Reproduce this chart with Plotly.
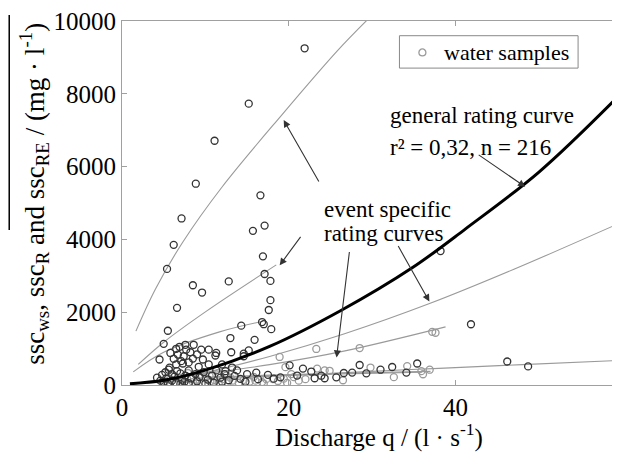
import plotly.graph_objects as go

# ---------------- data ----------------
dark_q = [21.9, 15.2, 11.1, 8.85, 16.6, 7.14, 17.1, 15.7, 6.2, 16.9, 5.4, 17.1, 17.8, 12.8, 8.5, 9.6,
          17.8, 6.6, 17.6, 16.8, 17.0, 14.3, 17.9, 5.5, 13.0, 15.9, 5.0, 15.2, 13.1, 14.6, 38.2, 41.85,
          46.2, 48.7,
          6.5, 7.6, 8.6, 7.7, 9.5, 10.4, 11.3, 6.7, 7.4, 8.5, 9.7, 11.2, 5.7, 6.5, 7.1, 9.2, 10.4, 12.0,
          13.2, 14.6, 4.5, 8.2, 6.9, 7.3, 8.0, 6.2, 5.8, 9.0,
          4.2, 4.8, 5.2, 5.6, 6.0, 6.3, 6.6, 7.0, 7.2, 7.6, 8.0, 8.3, 8.8, 9.3, 9.8, 10.3, 10.8, 11.3,
          11.8, 12.3, 12.8, 13.5, 14.2, 15.0, 5.0, 5.5, 6.0, 6.5, 7.0, 7.5, 8.0, 9.0, 4.6, 5.3, 13.8,
          12.4, 11.0, 10.0, 12.0, 14.8,
          16.1, 16.3, 18.2, 20.1, 21.7, 22.7, 23.1, 23.9, 24.3, 25.7, 27.6, 28.5, 29.3, 32.4, 34.1,
          35.4, 19.0, 21.0, 26.6, 31.0, 17.5]
dark_ssc = [9250, 7730, 6710, 5530, 5210, 4575, 4380, 4235, 3850, 3535, 3190, 3050, 2860, 2845, 2740, 2540,
            2330, 2120, 2060, 1730, 1670, 1630, 1535, 1490, 1290, 1240, 1130, 950, 900, 860, 3680, 1669,
            646, 511,
            995, 1105, 1105, 970, 970, 970, 880, 835, 790, 725, 700, 810, 475, 565, 655, 500, 565, 565,
            480, 790, 700, 900, 1050, 590, 620, 720, 880, 840,
            200, 280, 350, 420, 300, 230, 380, 320, 150, 260, 400, 180, 300, 220, 350, 150, 260, 400,
            200, 300, 130, 250, 170, 300, 80, 40, 120, 60, 30, 90, 50, 100, 120, 180, 400,
            380, 60, 40, 90, 90,
            340, 160, 175, 540, 450, 370, 185, 255, 185, 210, 340, 550, 320, 495, 340,
            590, 210, 260, 330, 420, 280]

light_q = [5.2, 5.8, 6.4, 6.8, 7.3, 7.8, 8.5, 9.0, 9.6, 10.0, 10.6, 11.1, 11.6, 12.1, 12.7, 13.3, 14.0,
           14.6, 15.3, 16.0, 16.8, 17.3, 18.1, 18.7, 19.4, 20.3, 20.6, 21.2, 22.0, 23.4, 24.3, 24.9,
           26.5, 29.8, 32.6, 34.2, 36.1, 36.9, 37.2, 37.6, 18.9, 23.3, 28.5, 19.6, 9.5, 8.0, 10.5, 11.5,
           13.0, 35.9, 4.9, 6.1, 7.9, 9.4, 12.5, 15.8, 17.0, 19.8]
light_ssc = [100, 160, 40, 200, 110, 170, 80, 140, 60, 190, 90, 130, 50, 160, 70, 120, 60,
             140, 90, 120, 80, 160, 160, 110, 175, 300, 215, 120, 160, 450, 400, 390,
             130, 480, 215, 520, 296, 420, 1460, 1435, 770, 990, 1015, 490, 30, 20, 250, 320,
             200, 380, 60, 250, 330, 280, 260, 220, 40, 60]

# event specific rating curves
ev_a_q = [1.67, 4, 7.3, 12, 19.2, 25.9, 29.5]
ev_a_ssc = [1480, 2630, 3930, 5440, 7430, 9200, 10050]
ev_b_q = [1.95, 5, 10, 18.5]
ev_b_ssc = [565, 1175, 2010, 3300]
ev_c_q = [1.35, 5, 11.7, 16.9]
ev_c_ssc = [360, 900, 1460, 1750]
ev_d_q = [1, 5, 10, 17.7, 26.6, 36.8, 47, 59.6]
ev_d_ssc = [15, 130, 345, 785, 1400, 2230, 3180, 4440]
ev_e_q = [2, 8, 17.7, 26.6, 38.8]
ev_e_ssc = [40, 250, 560, 930, 1597]
ev_f_q = [3, 10, 20, 30, 38, 48, 59.6]
ev_f_ssc = [50, 145, 265, 375, 458, 560, 675]
ev_g_q = [10, 20, 30, 37]
ev_g_ssc = [210, 290, 340, 375]
ev_h_q = [15, 25, 36]
ev_h_ssc = [230, 300, 350]

# general rating curve
gen_q = [0.95, 5, 10, 17.7, 26.2, 34.8, 41.2, 50, 59.6]
gen_ssc = [35, 130, 410, 1060, 2040, 3220, 4290, 5850, 7950]

x_ticks = [0, 20, 40]
y_ticks = [0, 2000, 4000, 6000, 8000, 10000]

# ---------------- figure ----------------
FONT = "Liberation Serif"
OFF = 8                      # page body margin of the html page
W, H = 620 - OFF, 452 - OFF
L, R, T, B = 122 - OFF, 0, 14 - OFF, 67
PW, PH = W - L - R, H - T - B


def px(xwin):
    return (xwin - OFF - L) / PW


def py(ywin):
    return (H - B - (ywin - OFF)) / PH


fig = go.Figure()

grey_curves = [(ev_a_q, ev_a_ssc), (ev_b_q, ev_b_ssc), (ev_c_q, ev_c_ssc), (ev_d_q, ev_d_ssc),
               (ev_e_q, ev_e_ssc), (ev_f_q, ev_f_ssc), (ev_g_q, ev_g_ssc), (ev_h_q, ev_h_ssc)]
for q, s in grey_curves:
    fig.add_trace(go.Scatter(x=q, y=s, mode="lines", line=dict(color="#9a9a9a", width=1.1, shape="spline"),
                             showlegend=False, hoverinfo="skip"))

fig.add_trace(go.Scatter(x=light_q, y=light_ssc, mode="markers", name="water samples",
                         marker=dict(symbol="circle-open", size=7, color="#9a9a9a", line=dict(width=1.3)),
                         showlegend=False))
fig.add_trace(go.Scatter(x=dark_q, y=dark_ssc, mode="markers", name="water samples",
                         marker=dict(symbol="circle-open", size=7, color="#333333", line=dict(width=1.3)),
                         showlegend=False))

fig.add_trace(go.Scatter(x=gen_q, y=gen_ssc, mode="lines", line=dict(color="black", width=3, shape="spline"),
                         showlegend=False, hoverinfo="skip"))

axis_common = dict(showgrid=False, zeroline=False, showline=True, linecolor="#a0a0a0", linewidth=1.2,
                   mirror="ticks", ticks="inside", ticklen=5, tickcolor="#a0a0a0",
                   ticklabeloverflow="allow",
                   tickfont=dict(family=FONT, size=25, color="black"))
fig.update_xaxes(range=[0, 59.6], tickvals=x_ticks, ticktext=[str(v) for v in x_ticks], **axis_common)
fig.update_yaxes(range=[0, 10000], tickvals=y_ticks, ticktext=[str(v) for v in y_ticks], **axis_common)

annos = []
# axis titles
annos.append(dict(xref="paper", yref="paper", x=px(380), y=py(436),
                  text="Discharge q / (l · s<sup>-1</sup>)", showarrow=False,
                  font=dict(family=FONT, size=25, color="black"), xanchor="center", yanchor="middle"))
annos.append(dict(xref="paper", yref="paper", x=px(34), y=py(190), textangle=-90,
                  text="ssc<sub>ws</sub>, ssc<sub>R</sub> and ssc<sub>RE</sub> / (mg · l<sup>-1</sup>)",
                  showarrow=False, font=dict(family=FONT, size=27, color="black"),
                  xanchor="center", yanchor="middle"))
# text labels
for txt, xx, yy in [("general rating curve", 389, 110), ("r² = 0,32, n = 216", 389, 143),
                    ("event specific", 322, 206), ("rating curves", 322, 231)]:
    annos.append(dict(xref="paper", yref="paper", x=px(xx), y=py(yy), text=txt, showarrow=False,
                      font=dict(family=FONT, size=23, color="black"), xanchor="left", yanchor="middle"))

# legend text
annos.append(dict(xref="paper", yref="paper", x=px(443), y=py(46), text="water samples", showarrow=False,
                  font=dict(family=FONT, size=22, color="black"), xanchor="left", yanchor="middle"))

# arrows: (tail x, tail y, tip x, tip y) in window pixels
arrows = [(320, 178, 284, 115), (302, 233, 280, 263), (350, 250, 337, 357),
          (398, 243, 430, 300), (478, 150, 526, 183)]
for tx, ty, hx, hy in arrows:
    annos.append(dict(xref="paper", yref="paper", x=px(hx), y=py(hy), ax=tx - hx, ay=ty - hy,
                      axref="pixel", ayref="pixel", text="", showarrow=True, arrowhead=2,
                      arrowsize=1.3, arrowwidth=1.1, arrowcolor="#333333"))

shapes = [
    # overline of the rotated axis title
    dict(type="line", xref="paper", yref="paper", x0=px(9), x1=px(9), y0=py(8), y1=py(227),
         line=dict(color="black", width=1.5)),
    # legend box
    dict(type="rect", xref="paper", yref="paper", x0=px(400), x1=px(579), y0=py(29), y1=py(62),
         line=dict(color="#888888", width=1), fillcolor="white", layer="above"),
    # legend symbol
    dict(type="circle", xref="paper", yref="paper", x0=px(419.5), x1=px(426.5), y0=py(42.5), y1=py(49.5),
         line=dict(color="#9a9a9a", width=1.3), layer="above"),
]

fig.update_layout(
    width=W, height=H, margin=dict(l=L, r=R, t=T, b=B, pad=0),
    paper_bgcolor="white", plot_bgcolor="white",
    font=dict(family=FONT, color="black"),
    annotations=annos,
    shapes=shapes,
    showlegend=False,
)

fig.write_html("out.html")
